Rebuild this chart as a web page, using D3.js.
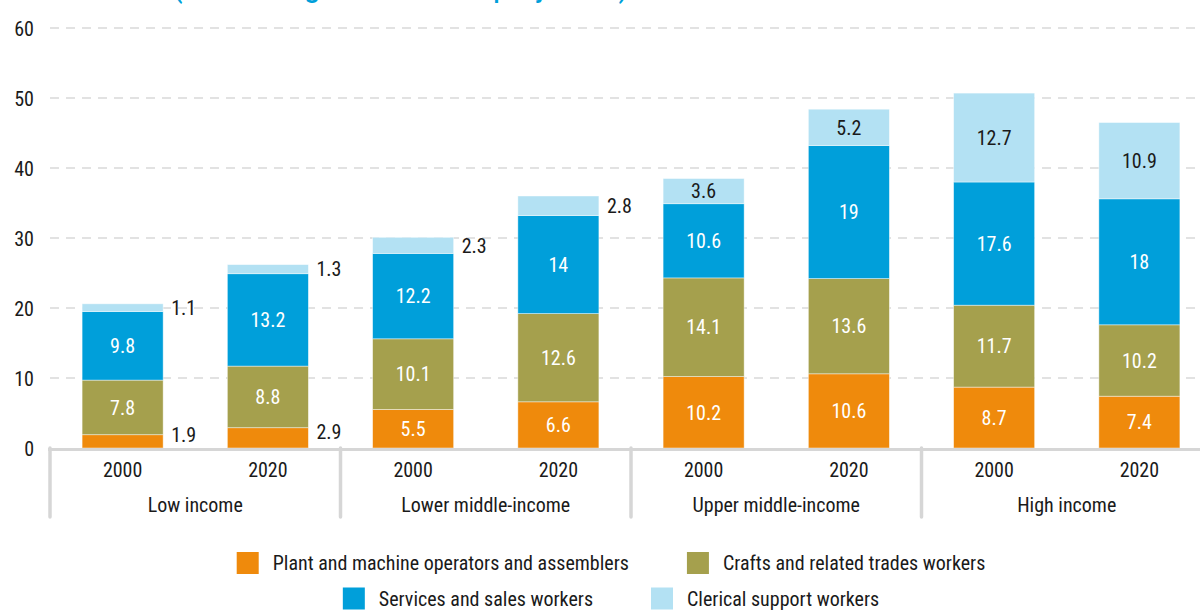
<!DOCTYPE html>
<html>
<head>
<meta charset="utf-8">
<script src="https://cdn.jsdelivr.net/npm/d3@7"></script>
<style>
  html, body { margin: 0; padding: 0; background: #fff; overflow: hidden; }
  svg { display: block; }
  text { font-family: "Liberation Sans Narrow", "Arial Narrow", "Roboto Condensed", "DejaVu Sans Condensed", sans-serif; }
</style>
</head>
<body>
<svg id="chart" width="1200" height="610"></svg>
<script>
// Income groups and survey years (two bars per group)
const groups = ["Low income", "Lower middle-income", "Upper middle-income", "High income"];
const years = ["2000", "2020"];

// Occupation series, bottom to top of each stack
const seriesNames = [
  "Plant and machine operators and assemblers",
  "Crafts and related trades workers",
  "Services and sales workers",
  "Clerical support workers"
];

// Share of total employment (%), in order: group × year
const plant    = [1.9, 2.9, 5.5, 6.6, 10.2, 10.6, 8.7, 7.4];
const crafts   = [7.8, 8.8, 10.1, 12.6, 14.1, 13.6, 11.7, 10.2];
const services = [9.8, 13.2, 12.2, 14, 10.6, 19, 17.6, 18];
const clerical = [1.1, 1.3, 2.3, 2.8, 3.6, 5.2, 12.7, 10.9];

const yTicks = [0, 10, 20, 30, 40, 50, 60];
const subtitle = "(Percentage of total employment)";

const colors = ["#EF8A0C", "#A5A04D", "#009FDA", "#B3E1F3"];
const valueColors = ["#fff", "#fff", "#fff", "#1a1a1a"];

const svg = d3.select("#chart");
const W = 1200;
const FS = "20px";

// Flat table, one row per bar
const seriesArrays = [plant, crafts, services, clerical];
const rows = [];
groups.forEach((g, gi) => {
  years.forEach((yr, yi) => {
    const idx = gi * years.length + yi;
    const row = { group: g, year: yr };
    seriesNames.forEach((s, si) => { row[s] = seriesArrays[si][idx]; });
    rows.push(row);
  });
});

// Scales
const x0 = d3.scaleBand().domain(groups).range([50, 1212]).padding(0);
const x1 = d3.scaleBand().domain(years).range([0, x0.bandwidth()])
  .paddingInner(0.442).paddingOuter(0.221);
const y = d3.scaleLinear().domain([0, 60]).range([448, 28]);

// Subtitle, partly above the top edge
svg.append("text")
  .attr("x", 172).attr("y", -4)
  .attr("fill", "#009FDA")
  .style("font-size", "34.5px")
  .text(subtitle);

// Dashed horizontal grid
svg.append("g").selectAll("line")
  .data(yTicks.filter(t => t > 0))
  .join("line")
  .attr("x1", 50).attr("x2", W)
  .attr("y1", d => y(d)).attr("y2", d => y(d))
  .attr("stroke", "#d9d9d9")
  .attr("stroke-width", 1.5)
  .attr("stroke-dasharray", "9,7");

// Y axis labels
const yAxis = d3.axisLeft(y).tickValues(yTicks).tickSize(0).tickPadding(0);
svg.append("g")
  .attr("transform", "translate(34,0)")
  .call(yAxis)
  .call(g => g.select(".domain").remove())
  .call(g => g.selectAll("text")
    .attr("fill", "#1a1a1a")
    .attr("dy", "0.36em")
    .style("font-size", FS));

// Stacked bars
const stack = d3.stack().keys(seriesNames);
const stacked = stack(rows);

const barGroups = svg.append("g").selectAll("g")
  .data(stacked)
  .join("g")
  .attr("fill", (d, i) => colors[i]);

barGroups.selectAll("rect")
  .data(d => d)
  .join("rect")
  .attr("x", d => x0(d.data.group) + x1(d.data.year))
  .attr("width", x1.bandwidth())
  .attr("y", d => y(d[1]))
  .attr("height", d => y(d[0]) - y(d[1]))
  .attr("stroke", "#ffffff")
  .attr("stroke-opacity", 0.55)
  .attr("stroke-width", 0.8);

// Value labels: inside the segment when it is tall enough, otherwise to the right
const labels = svg.append("g");
stacked.forEach((layer, si) => {
  layer.forEach(d => {
    const v = d[1] - d[0];
    const inside = v >= 3;
    const bx = x0(d.data.group) + x1(d.data.year);
    let cy = (y(d[0]) + y(d[1])) / 2;
    // bottom-segment labels outside the bar sit a little above the axis line
    if (!inside && si === 0) cy -= 6.5;
    labels.append("text")
      .attr("x", inside ? bx + x1.bandwidth() / 2 : bx + x1.bandwidth() + 8)
      .attr("y", cy)
      .attr("dy", "0.36em")
      .attr("text-anchor", inside ? "middle" : "start")
      .attr("fill", inside ? valueColors[si] : "#1a1a1a")
      .style("font-size", FS)
      .text(d3.format("~g")(+v.toFixed(1)));
  });
});

// Baseline and group separators
const axisG = svg.append("g");
axisG.append("line")
  .attr("x1", 48).attr("x2", W)
  .attr("y1", 449.5).attr("y2", 449.5)
  .attr("stroke", "#d6d6d6").attr("stroke-width", 3);

const sepXs = groups.map(g => x0(g)).concat([x0.range()[1]]);
axisG.selectAll("line.sep")
  .data(sepXs)
  .join("line")
  .attr("class", "sep")
  .attr("x1", d => d).attr("x2", d => d)
  .attr("y1", 448).attr("y2", 517)
  .attr("stroke", "#d6d6d6").attr("stroke-width", 3.5)
  .attr("stroke-linecap", "round");

// Year labels under each bar
const yearLabels = svg.append("g");
groups.forEach(g => {
  years.forEach(yr => {
    yearLabels.append("text")
      .attr("x", x0(g) + x1(yr) + x1.bandwidth() / 2)
      .attr("y", 477)
      .attr("text-anchor", "middle")
      .attr("fill", "#1a1a1a")
      .style("font-size", FS)
      .text(yr);
  });
});

// Group labels
svg.append("g").selectAll("text")
  .data(groups)
  .join("text")
  .attr("x", d => x0(d) + x0.bandwidth() / 2)
  .attr("y", 512)
  .attr("text-anchor", "middle")
  .attr("fill", "#1a1a1a")
  .style("font-size", FS)
  .text(d => d);

// Legend: two centred rows
const legendRows = [[0, 1], [2, 3]];
const legendRowY = [563, 598.5];
const sw = 22, gapText = 14, gapItem = 58, legendCenter = 611;
const legend = svg.append("g");
legendRows.forEach((row, ri) => {
  const items = row.map(si => {
    const gItem = legend.append("g");
    gItem.append("rect")
      .attr("width", sw).attr("height", sw)
      .attr("y", -sw / 2)
      .attr("fill", colors[si]);
    const t = gItem.append("text")
      .attr("x", sw + gapText)
      .attr("dy", "0.36em")
      .attr("fill", "#1a1a1a")
      .style("font-size", FS)
      .text(seriesNames[si]);
    const w = sw + gapText + t.node().getComputedTextLength();
    return { gItem, w };
  });
  const total = d3.sum(items, d => d.w) + gapItem * (items.length - 1);
  let cx = legendCenter - total / 2;
  items.forEach(it => {
    it.gItem.attr("transform", `translate(${cx},${legendRowY[ri]})`);
    cx += it.w + gapItem;
  });
});
</script>
</body>
</html>
